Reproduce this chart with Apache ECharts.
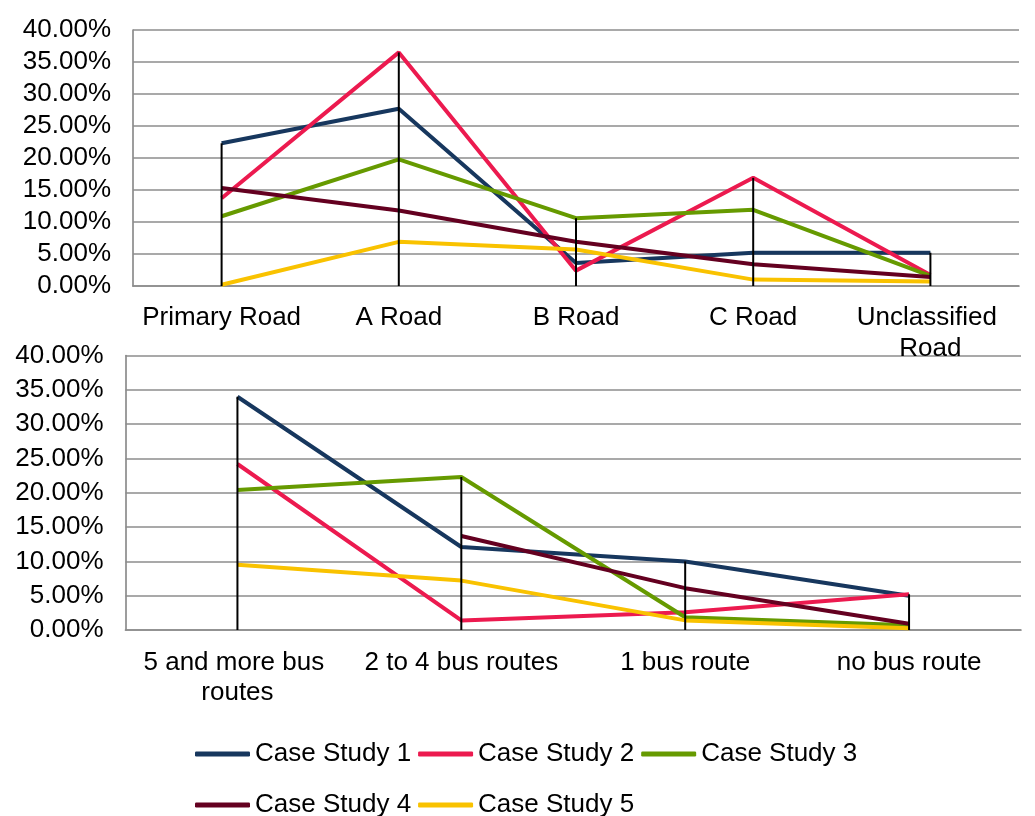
<!DOCTYPE html>
<html>
<head>
<meta charset="utf-8">
<script src="https://cdn.jsdelivr.net/npm/echarts@6/dist/echarts.min.js"></script>
<style>
html,body{margin:0;padding:0;background:#fff;}
#chart{width:1035px;height:816px;}
</style>
</head>
<body>
<div id="chart"></div>
<script>
// ---- data ----
const seriesNames = ['Case Study 1', 'Case Study 2', 'Case Study 3', 'Case Study 4', 'Case Study 5'];
const roadCategories = ['Primary Road', 'A Road', 'B Road', 'C Road', 'Unclassified Road'];
const busCategories = ['5 and more bus routes', '2 to 4 bus routes', '1 bus route', 'no bus route'];
const yTicks = [0, 5, 10, 15, 20, 25, 30, 35, 40];

// road type shares (%)
const roadCS1 = [22.3, 27.7, 3.6, 5.2, 5.2];
const roadCS2 = [13.7, 36.5, 2.4, 16.9, 1.7];
const roadCS3 = [10.9, 19.8, 10.6, 11.9, 1.6];
const roadCS4 = [15.3, 11.8, 6.9, 3.4, 1.4];
const roadCS5 = [0.2, 6.9, 5.7, 1.0, 0.7];

// bus route shares (%)
const busCS1 = [34.0, 12.1, 10.0, 5.0];
const busCS2 = [24.2, 1.4, 2.6, 5.2];
const busCS3 = [20.4, 22.3, 1.85, 0.7];
const busCS4 = [null, 13.7, 6.1, 0.9];
const busCS5 = [9.5, 7.2, 1.4, 0.25];

const colors = ['#17375e', '#ec1a4f', '#669a00', '#640020', '#f9c200'];

const roadData = [roadCS1, roadCS2, roadCS3, roadCS4, roadCS5];
const busData = [busCS1, busCS2, busCS3, busCS4, busCS5];

function maxPerCategory(sets, n) {
  const out = [];
  for (let i = 0; i < n; i++) {
    out.push(Math.max(...sets.map(s => s[i]).filter(v => v != null)));
  }
  return out;
}

const FONT = 'Liberation Sans, Arial, sans-serif';
const gridLine = { show: true, lineStyle: { color: '#8c8c8c', width: 1.7 } };
const axisLine = { show: true, lineStyle: { color: '#8c8c8c', width: 1.7 } };

function yAxis(gridIndex) {
  return {
    type: 'value', gridIndex: gridIndex, min: yTicks[0], max: yTicks[yTicks.length - 1], interval: yTicks[1] - yTicks[0],
    axisLine: axisLine, axisTick: { show: false }, splitLine: gridLine,
    axisLabel: {
      color: '#000', fontFamily: FONT, fontSize: 26, margin: 22,
      formatter: v => v.toFixed(2) + '%'
    }
  };
}

const lineSeries = [];
roadData.forEach((d, i) => lineSeries.push({
  name: seriesNames[i], type: 'line', xAxisIndex: 0, yAxisIndex: 0, data: d,
  symbol: 'none', lineStyle: { width: 4, color: colors[i] }, itemStyle: { color: colors[i] }, z: 2, silent: true
}));
busData.forEach((d, i) => lineSeries.push({
  name: seriesNames[i], type: 'line', xAxisIndex: 1, yAxisIndex: 1, data: d,
  symbol: 'none', connectNulls: false, lineStyle: { width: 4, color: colors[i] }, itemStyle: { color: colors[i] }, z: 2, silent: true
}));

const dropRoad = {
  type: 'bar', xAxisIndex: 0, yAxisIndex: 0, barWidth: 2,
  data: maxPerCategory(roadData, roadCategories.length),
  itemStyle: { color: '#000' }, z: 3, silent: true
};
const dropBus = {
  type: 'bar', xAxisIndex: 1, yAxisIndex: 1, barWidth: 2,
  data: maxPerCategory(busData, busCategories.length),
  itemStyle: { color: '#000' }, z: 3, silent: true
};

const legendCommon = {
  left: 195, orient: 'horizontal', itemWidth: 55, itemHeight: 5, itemGap: 7,
  icon: 'roundRect', selectedMode: false, padding: 0,
  textStyle: { color: '#000', fontFamily: FONT, fontSize: 26, width: 163 }
};

const option = {
  backgroundColor: '#fff',
  animation: false,
  color: colors,
  grid: [
    { left: 133, top: 30, width: 886, height: 256 },
    { left: 125.5, top: 355.6, width: 895.5, height: 274.4 }
  ],
  xAxis: [
    {
      type: 'category', gridIndex: 0, data: roadCategories, boundaryGap: true,
      axisLine: axisLine, axisTick: { show: false },
      axisLabel: {
        color: '#000', fontFamily: FONT, fontSize: 26, lineHeight: 31,
        margin: 16, interval: 0, width: 175, overflow: 'break'
      }
    },
    {
      type: 'category', gridIndex: 1, data: busCategories, boundaryGap: true,
      axisLine: axisLine, axisTick: { show: false },
      axisLabel: {
        color: '#000', fontFamily: FONT, fontSize: 26, lineHeight: 30,
        margin: 18, interval: 0, width: 212, overflow: 'break'
      }
    }
  ],
  yAxis: [yAxis(0), yAxis(1)],
  legend: [
    Object.assign({}, legendCommon, { top: 741, data: seriesNames.slice(0, 3) }),
    Object.assign({}, legendCommon, { top: 792, data: seriesNames.slice(3) })
  ],
  series: lineSeries.concat([dropRoad, dropBus])
};

const chart = echarts.init(document.getElementById('chart'), null, { renderer: 'canvas' });
chart.setOption(option);
</script>
</body>
</html>
